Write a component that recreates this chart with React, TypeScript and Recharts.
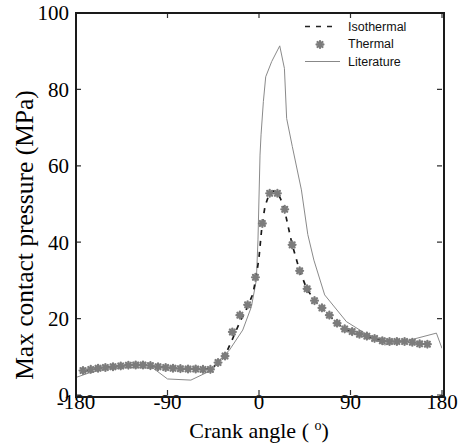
import {
  ComposedChart,
  Line,
  Scatter,
  XAxis,
  YAxis,
  Legend,
} from 'recharts';

// Thermal (markers)
const thermalAngles = [
  -173.1, -165.5, -158.3, -151.1, -143.6, -136.0, -128.5, -121.3, -114.1, -106.8,
  -99.3, -91.8, -84.6, -77.3, -69.8, -62.3, -55.1, -47.8, -40.3, -33.4,
  -26.2, -18.8, -11.2, -3.5, 3.3, 10.5, 18.1, 25.3, 32.6, 40.0,
  47.3, 54.6, 61.9, 69.2, 76.8, 84.3, 91.6, 98.8, 106.1, 113.7,
  121.3, 128.4, 135.6, 143.2, 150.8, 158.0, 165.6,
];
const thermalValues = [
  6.4, 6.7, 7.0, 7.2, 7.4, 7.6, 7.8, 7.85, 7.85, 7.7,
  7.4, 7.2, 7.0, 6.9, 6.8, 6.8, 6.7, 6.7, 8.5, 10.2,
  16.5, 20.9, 23.6, 30.8, 44.9, 52.8, 52.8, 48.6, 39.3, 32.5,
  27.8, 24.7, 22.8, 20.9, 18.8, 17.3, 16.6, 15.9, 15.4, 14.8,
  14.2, 14.0, 14.0, 14.0, 13.8, 13.4, 13.3,
];

// Isothermal (dashed)
const isoAngles = [
  -173, -160, -145, -130, -115, -100, -85, -70, -55, -47, -40, -34, -26, -19,
  -11, -6, -3, 0, 3, 6, 10, 14, 18, 21, 25, 32.5, 40, 47, 55, 62, 69, 77,
  84, 92, 99, 106, 114, 121, 128, 143, 151, 158, 165,
];
const isoValues = [
  6.2, 6.9, 7.4, 7.7, 7.8, 7.4, 7.0, 6.8, 6.7, 7.0, 8.3, 10.0, 14.7, 19.0,
  23.2, 26.5, 30.5, 36, 44.5, 49.5, 52.6, 53.4, 53, 51.5, 48.6, 39.5, 32.5, 27.8, 24.6, 22.7, 20.8, 18.8,
  17.3, 16.4, 15.8, 15.3, 14.8, 14.3, 14.1, 14.0, 13.8, 13.5, 13.3,
];

// Literature (thin solid)
const litAngles = [
  -180, -168, -153, -130, -104, -90, -67, -45, -42, -29, -16, -7.5, -2.6, -1,
  1, 2, 4.3, 6.6, 12.5, 20.4, 25, 27.2, 32.8, 41.7, 48, 54, 64.6, 86, 104,
  123.6, 151.6, 174.5, 180,
];
const litValues = [
  4.6, 5.7, 6.7, 7.2, 7.0, 4.2, 3.9, 6.7, 8.3, 11.8, 17.0, 23.1, 30.1, 40.6,
  62.8, 68.1, 76.8, 83.3, 87.3, 91.4, 85.5, 72.4, 65, 53.7, 42.0, 35.3, 26.2, 19.2, 16.2,
  13.1, 14.6, 16.2, 12.2,
];

const xTicks = [-180, -90, 0, 90, 180];
const yTicks = [0, 20, 40, 60, 80, 100];

const toPoints = (xs: number[], ys: number[]) => xs.map((angle, i) => ({ angle, p: ys[i] }));
const thermal = toPoints(thermalAngles, thermalValues);
const isothermal = toPoints(isoAngles, isoValues);
const literature = toPoints(litAngles, litValues);

// layout
const WIDTH = 462;
const HEIGHT = 446;
const MARGIN = { top: 13, right: 20, bottom: 0, left: 0 };
const Y_AXIS_W = 76;
const X_AXIS_H = 51;
const PLOT_TOP = MARGIN.top;
const PLOT_BOTTOM = HEIGHT - MARGIN.bottom - X_AXIS_H;
const PLOT_LEFT = MARGIN.left + Y_AXIS_W;
const PLOT_RIGHT = WIDTH - MARGIN.right;
const TICK_LEN = 5;

const SERIF = '"Liberation Serif", "Times New Roman", serif';
const SANS = '"Liberation Sans", Arial, sans-serif';
const MARKER = '#7c7c7c';
const FRAME = '#1a1a1a';
const TICK_COLOR = '#333';

function Star({ cx, cy }: any) {
  if (cx == null || cy == null) return null;
  const r = 3.4;
  const d = r * 0.72;
  return (
    <g stroke={MARKER} strokeWidth={2.3} strokeLinecap="round">
      <line x1={cx - r} y1={cy} x2={cx + r} y2={cy} />
      <line x1={cx} y1={cy - r} x2={cx} y2={cy + r} />
      <line x1={cx - d} y1={cy - d} x2={cx + d} y2={cy + d} />
      <line x1={cx - d} y1={cy + d} x2={cx + d} y2={cy - d} />
    </g>
  );
}

// bottom tick: label plus inward marks on bottom and top edges
function XTick({ x, y, payload }: any) {
  return (
    <g>
      <path d={`M${x},${PLOT_BOTTOM}v${-TICK_LEN}M${x},${PLOT_TOP}v${TICK_LEN}`} stroke={TICK_COLOR} strokeWidth={1.2} fill="none" />
      <text x={x} y={y} dy="0.66em" textAnchor="middle" fontFamily={SERIF} fontSize={21} fill="#000">
        {payload.value}
      </text>
    </g>
  );
}

// left tick: label plus inward marks on left and right edges
function YTick({ x, y, payload }: any) {
  return (
    <g>
      <path d={`M${PLOT_LEFT},${y}h${TICK_LEN}M${PLOT_RIGHT},${y}h${-TICK_LEN}`} stroke={TICK_COLOR} strokeWidth={1.2} fill="none" />
      <text x={x} y={y} dy="0.355em" textAnchor="end" fontFamily={SERIF} fontSize={21} fill="#000">
        {payload.value}
      </text>
    </g>
  );
}

function ChartLegend() {
  const row = { display: 'flex', alignItems: 'center', height: 17.5 };
  const text = { fontFamily: SANS, fontSize: 12.5, color: '#111', marginLeft: 6 };
  return (
    <div>
      <div style={row}>
        <svg width={40} height={17}>
          <line x1={3} y1={8.5} x2={33} y2={8.5} stroke="#222" strokeWidth={1.6} strokeDasharray="5 6" />
        </svg>
        <span style={text}>Isothermal</span>
      </div>
      <div style={row}>
        <svg width={40} height={17}>
          <Star cx={18} cy={8.5} />
        </svg>
        <span style={text}>Thermal</span>
      </div>
      <div style={row}>
        <svg width={40} height={17}>
          <line x1={3} y1={8.5} x2={38} y2={8.5} stroke="#888" strokeWidth={1} />
        </svg>
        <span style={text}>Literature</span>
      </div>
    </div>
  );
}

function XLabel({ viewBox }: any) {
  const { x, y, width } = viewBox;
  return (
    <text x={x + width / 2} y={y + 43} textAnchor="middle" fontFamily={SERIF} fontSize={22} fill="#000">
      Crank angle ({'\u00a0'}
      <tspan dy={-8} fontSize={14}>o</tspan>
      <tspan dy={8}>)</tspan>
    </text>
  );
}

function YLabel({ viewBox }: any) {
  const { y, height } = viewBox;
  const cx = 24;
  const cy = y + height / 2 + 31;
  return (
    <text
      x={cx}
      y={cy}
      transform={`rotate(-90 ${cx} ${cy})`}
      textAnchor="middle"
      dominantBaseline="central"
      fontFamily={SERIF}
      fontSize={25.5}
      fill="#000"
    >
      Max contact pressure (MPa)
    </text>
  );
}

export default function App() {
  return (
    <div style={{ position: 'absolute', left: 0, top: 0, width: WIDTH, height: HEIGHT, background: '#fff' }}>
      <ComposedChart width={WIDTH} height={HEIGHT} margin={MARGIN}>
        <XAxis
          xAxisId="bottom"
          type="number"
          dataKey="angle"
          domain={[-180, 180]}
          ticks={xTicks}
          interval={0}
          height={X_AXIS_H}
          tick={<XTick />}
          tickSize={0}
          tickMargin={0}
          axisLine={false}
          tickLine={false}
          allowDataOverflow
          label={<XLabel />}
        />
        <YAxis
          yAxisId="left"
          type="number"
          dataKey="p"
          domain={[0, 100]}
          ticks={yTicks}
          interval={0}
          width={Y_AXIS_W}
          tick={<YTick />}
          tickSize={0}
          tickMargin={7}
          axisLine={false}
          tickLine={false}
          allowDataOverflow
          label={<YLabel />}
        />
        <Line
          xAxisId="bottom"
          yAxisId="left"
          data={literature}
          dataKey="p"
          stroke="#8a8a8a"
          strokeWidth={1}
          dot={false}
          isAnimationActive={false}
        />
        <Line
          xAxisId="bottom"
          yAxisId="left"
          data={isothermal}
          dataKey="p"
          stroke="#1a1a1a"
          strokeWidth={1.7}
          strokeDasharray="5 6"
          dot={false}
          isAnimationActive={false}
        />
        <Scatter
          xAxisId="bottom"
          yAxisId="left"
          data={thermal}
          dataKey="p"
          shape={(props: any) => <Star cx={props.cx} cy={props.cy} />}
          isAnimationActive={false}
        />
        <Legend
          layout="vertical"
          align="center"
          verticalAlign="middle"
          content={<ChartLegend />}
          wrapperStyle={{ position: 'absolute', left: 302, top: 18, width: 140 }}
        />
      </ComposedChart>
      {/* plot frame: a full box round the plotting area */}
      <div
        style={{
          position: 'absolute',
          left: PLOT_LEFT - 1,
          top: PLOT_TOP - 1,
          width: PLOT_RIGHT - PLOT_LEFT,
          height: PLOT_BOTTOM - PLOT_TOP,
          border: `2px solid ${FRAME}`,
          pointerEvents: 'none',
        }}
      />
    </div>
  );
}
